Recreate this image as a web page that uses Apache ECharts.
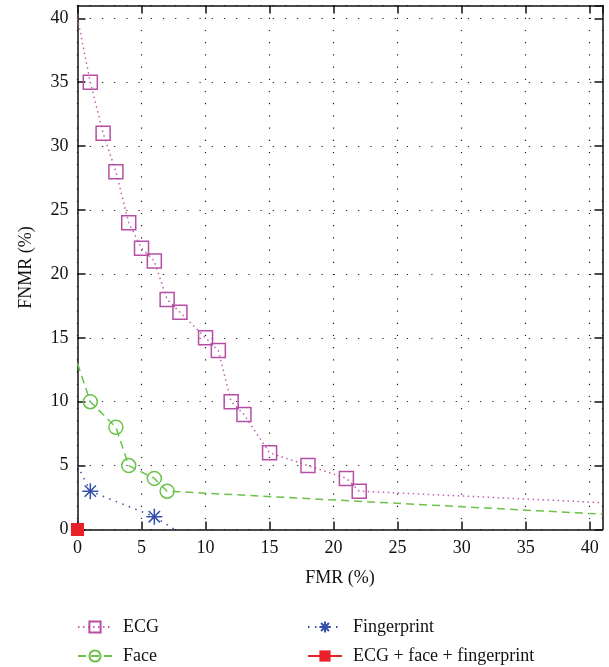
<!DOCTYPE html>
<html>
<head>
<meta charset="utf-8">
<script src="https://cdn.jsdelivr.net/npm/echarts@6/dist/echarts.min.js"></script>
<style>
html,body{margin:0;padding:0;background:#fff;}
#chart{width:609px;height:667px;}
</style>
</head>
<body>
<div id="chart"></div>
<script>
// curves, [FMR, FNMR] in %
var ecgData = [[0,40],[1,35],[2,31],[3,28],[4,24],[5,22],[6,21],[7,18],[8,17],[10,15],[11,14],[12,10],[13,9],[15,6],[18,5],[21,4],[22,3],[41,2.1]];
var faceData = [[0,13],[1,10],[3,8],[4,5],[6,4],[7,3],[41,1.2]];
var fingerData = [[0,5],[1,3],[6,1],[7.6,0]];
var fusedData = [[0,0]];
// which points carry a marker (the end points are just line)
var ecgMarked = [0,1,1,1,1,1,1,1,1,1,1,1,1,1,1,1,1,0];
var faceMarked = [0,1,1,1,1,1,0];
var fingerMarked = [0,1,1,0];
var seriesNames = ['ECG','Face','Fingerprint','ECG + face + fingerprint'];

var serif = '"Liberation Serif","DejaVu Serif",serif';
var star = 'path://M0,-10L0,10M-10,0L10,0M-7.07,-7.07L7.07,7.07M-7.07,7.07L7.07,-7.07';

function pts(data, marked){
    var out = [];
    for(var i=0;i<data.length;i++){
        if(marked[i]) out.push({value:data[i]});
        else out.push({value:data[i], symbol:'none'});
    }
    return out;
}

// one legend box per entry, two columns x two rows
var legendPos = [[77,618],[77,647],[307,618],[307,647]];
var legends = [];
for(var k=0;k<seriesNames.length;k++){
    legends.push({
        data:[seriesNames[k]],
        left:legendPos[k][0], top:legendPos[k][1], padding:0,
        itemWidth:34, itemHeight:14,
        textStyle:{fontFamily:serif, fontSize:18, color:'#111', padding:[0,0,0,6]}
    });
}

var chart = echarts.init(document.getElementById('chart'));
var gridDots = {show:true, lineStyle:{color:'#222', width:1.2, type:[1.2,11]}};
var options = {
    animation:false,
    backgroundColor:'#fff',
    grid:{left:77.5, right:6.5, top:5.5, bottom:137.5},
    legend:legends,
    xAxis:[{
        type:'value', min:0, max:41, interval:5,
        name:'FMR (%)', nameLocation:'middle', nameGap:40,
        nameTextStyle:{fontFamily:serif, fontSize:18, color:'#111'},
        axisLine:{show:true, lineStyle:{color:'#111', width:1.5}},
        axisTick:{show:true, inside:true, length:8, lineStyle:{color:'#111', width:1.5}},
        axisLabel:{fontFamily:serif, fontSize:18, color:'#111', margin:10, showMaxLabel:false},
        splitLine:gridDots
    },{
        type:'value', min:0, max:41, interval:5, position:'top',
        axisLine:{show:true, onZero:false, lineStyle:{color:'#111', width:1.5}},
        axisTick:{show:true, inside:true, length:8, lineStyle:{color:'#111', width:1.5}},
        axisLabel:{show:false}, splitLine:{show:false}
    }],
    yAxis:[{
        type:'value', min:0, max:41, interval:5,
        name:'FNMR (%)', nameLocation:'middle', nameGap:42,
        nameTextStyle:{fontFamily:serif, fontSize:18, color:'#111'},
        axisLine:{show:true, lineStyle:{color:'#111', width:1.5}},
        axisTick:{show:true, inside:true, length:8, lineStyle:{color:'#111', width:1.5}},
        axisLabel:{fontFamily:serif, fontSize:18, color:'#111', margin:9, showMaxLabel:false},
        splitLine:gridDots
    },{
        type:'value', min:0, max:41, interval:5, position:'right',
        axisLine:{show:true, onZero:false, lineStyle:{color:'#111', width:1.5}},
        axisTick:{show:true, inside:true, length:8, lineStyle:{color:'#111', width:1.5}},
        axisLabel:{show:false}, splitLine:{show:false}
    }],
    series:[{
        name:seriesNames[0], type:'line', data:pts(ecgData, ecgMarked),
        symbol:'rect', symbolSize:14, showAllSymbol:true,
        itemStyle:{color:'rgba(0,0,0,0)', borderColor:'#b64fa3', borderWidth:1.5},
        lineStyle:{color:'#c45fb2', width:1.5, type:[1.5,3.5]}
    },{
        name:seriesNames[1], type:'line', data:pts(faceData, faceMarked),
        symbol:'circle', symbolSize:14, showAllSymbol:true,
        itemStyle:{color:'rgba(0,0,0,0)', borderColor:'#6cc24a', borderWidth:1.5},
        lineStyle:{color:'#6cc24a', width:1.5, type:[8,5]}
    },{
        name:seriesNames[2], type:'line', data:pts(fingerData, fingerMarked),
        symbol:star, symbolSize:16, showAllSymbol:true,
        itemStyle:{color:'rgba(0,0,0,0)', borderColor:'#3450a8', borderWidth:1.5},
        lineStyle:{color:'#3450a8', width:1.5, type:[1.5,5.5]}
    },{
        name:seriesNames[3], type:'line', data:fusedData, clip:false, z:5,
        symbol:'rect', symbolSize:13,
        itemStyle:{color:'#e8202a'},
        lineStyle:{color:'#e8202a', width:1.5}
    }]
};
chart.setOption(options);
</script>
</body>
</html>
